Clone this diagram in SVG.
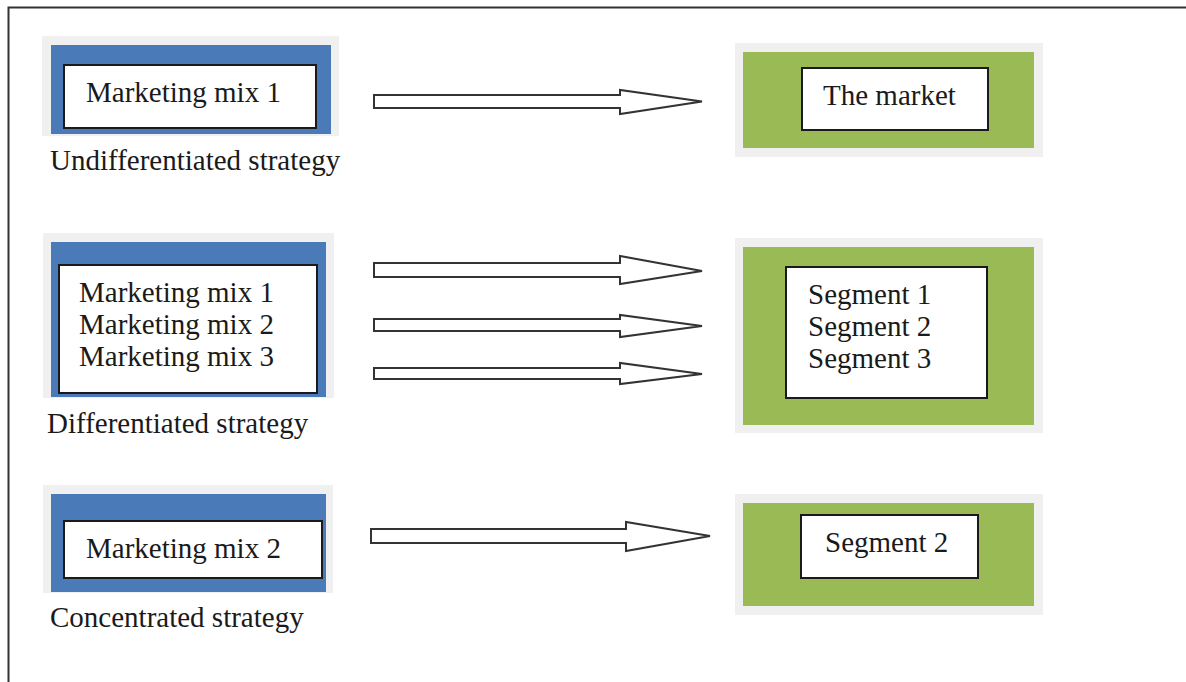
<svg xmlns="http://www.w3.org/2000/svg" width="1186" height="682" viewBox="0 0 1186 682">
  <style>
    .halo { fill: #f0f0f0; }
    .blue { fill: #4a7ab8; }
    .green { fill: #9aba55; }
    .inner { fill: #ffffff; stroke: #1a1a1a; stroke-width: 2; }
    .label { font-family: "Liberation Serif", "Times New Roman", serif; font-size: 29px; fill: #1a1a1a; }
    .arrow { fill: #ffffff; stroke: #333333; stroke-width: 2; stroke-linejoin: miter; }
  </style>

  <rect x="0" y="0" width="1186" height="682" fill="#ffffff"/>
  <!-- frame -->
  <path d="M8.5 682 V7.5 H1186" fill="none" stroke="#333333" stroke-width="2"/>

  <!-- strategy boxes -->
  <g id="mix-undifferentiated">
    <rect class="halo" x="42" y="36" width="297" height="100"/>
    <rect class="blue" x="51" y="45" width="280" height="89"/>
    <rect class="inner" x="64" y="65" width="252" height="63"/>
    <text class="label" x="86" y="102">Marketing mix 1</text>
  </g>
  <text id="caption-undifferentiated" class="label" x="50" y="170">Undifferentiated strategy</text>

  <g id="mix-differentiated">
    <rect class="halo" x="43" y="233" width="291" height="165"/>
    <rect class="blue" x="51" y="242" width="275" height="155"/>
    <rect class="inner" x="59" y="265" width="258" height="128"/>
    <text class="label" x="79" y="302">Marketing mix 1</text>
    <text class="label" x="79" y="334">Marketing mix 2</text>
    <text class="label" x="79" y="366">Marketing mix 3</text>
  </g>
  <text id="caption-differentiated" class="label" x="47" y="433">Differentiated strategy</text>

  <g id="mix-concentrated">
    <rect class="halo" x="43" y="485" width="290" height="108"/>
    <rect class="blue" x="51" y="494" width="275" height="98"/>
    <rect class="inner" x="64" y="521" width="258" height="57"/>
    <text class="label" x="86" y="558">Marketing mix 2</text>
  </g>
  <text id="caption-concentrated" class="label" x="50" y="627">Concentrated strategy</text>

  <!-- market boxes -->
  <g id="the-market">
    <rect class="halo" x="735" y="43" width="308" height="114"/>
    <rect class="green" x="743" y="52" width="291" height="96"/>
    <rect class="inner" x="802" y="68" width="186" height="62"/>
    <text class="label" x="823" y="105">The market</text>
  </g>

  <g id="segments">
    <rect class="halo" x="735" y="238" width="308" height="195"/>
    <rect class="green" x="743" y="247" width="291" height="178"/>
    <rect class="inner" x="786" y="267" width="201" height="131"/>
    <text class="label" x="808" y="304">Segment 1</text>
    <text class="label" x="808" y="336">Segment 2</text>
    <text class="label" x="808" y="368">Segment 3</text>
  </g>

  <g id="segment-2">
    <rect class="halo" x="735" y="494" width="308" height="121"/>
    <rect class="green" x="743" y="503" width="291" height="103"/>
    <rect class="inner" x="801" y="515" width="177" height="63"/>
    <text class="label" x="825" y="552">Segment 2</text>
  </g>

  <!-- block arrows -->
  <g id="connectors">
    <polygon class="arrow" points="374,95 620,95 620,90 702,101.5 620,114 620,108 374,108"/>
    <polygon class="arrow" points="374,263 620,263 620,256 702,271 620,284 620,277 374,277"/>
    <polygon class="arrow" points="374,319 620,319 620,315 702,326 620,337 620,331 374,331"/>
    <polygon class="arrow" points="374,368 620,368 620,363 702,374 620,384 620,379 374,379"/>
    <polygon class="arrow" points="371,529 626,529 626,522 710,536 626,551 626,543 371,543"/>
  </g>
</svg>
